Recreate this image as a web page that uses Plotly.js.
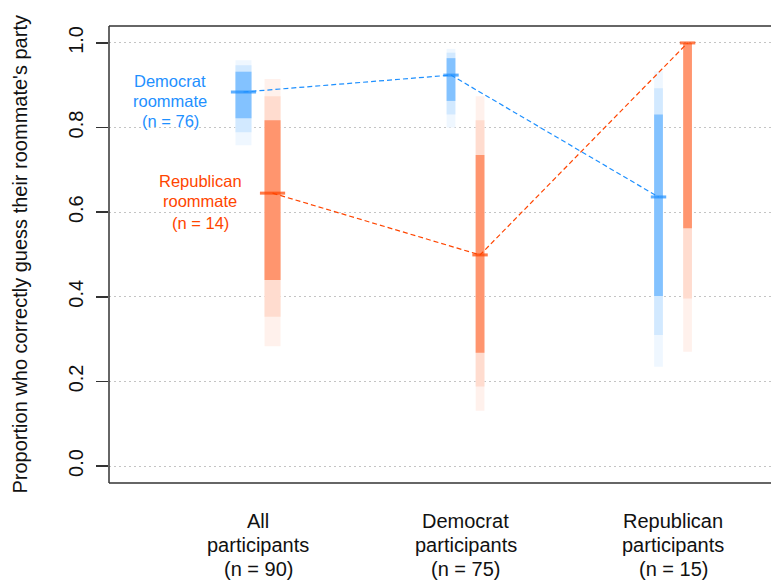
<!DOCTYPE html>
<html>
<head>
<meta charset="utf-8">
<script src="https://cdn.plot.ly/plotly-3.0.1.min.js"></script>
<style>
html,body{margin:0;padding:0;background:#fff;overflow:hidden;}
#chart{width:771px;height:581px;}
</style>
</head>
<body>
<div id="chart"></div>
<script>
// ---- data ----
const groups = ["All", "Democrat", "Republican"];
const groupN = [90, 75, 15];

const demMedian   = [0.884, 0.924, 0.636];
const demDarkLo   = [0.822, 0.863, 0.402];
const demDarkHi   = [0.932, 0.964, 0.831];
const demMidLo    = [0.789, 0.831, 0.310];
const demMidHi    = [0.947, 0.977, 0.893];
const demOuterLo  = [0.758, 0.800, 0.235];
const demOuterHi  = [0.959, 0.986, 0.933];

const repMedian   = [0.645, 0.499, 1.000];
const repDarkLo   = [0.440, 0.268, 0.562];
const repDarkHi   = [0.817, 0.735, 1.000];
const repMidLo    = [0.353, 0.188, 0.396];
const repMidHi    = [0.874, 0.817, 1.000];
const repOuterLo  = [0.283, 0.131, 0.270];
const repOuterHi  = [0.915, 0.874, 1.000];

const yTickVals = [0, 0.2, 0.4, 0.6, 0.8, 1.0];
const yTickText = ["0.0", "0.2", "0.4", "0.6", "0.8", "1.0"];
const yTitle = "Proportion who correctly guess their roommate's party";

// ---- styles ----
const FONT = "Liberation Sans, Arial, sans-serif";
const OFFSET = 0.07;
const barW = [0.077, 0.042, 0.042];
const medPx = [18, 11, 11];
const blue = {line:"rgb(30,144,255)", dark:"rgb(131,194,255)", mid:"rgb(210,233,255)", light:"rgb(239,247,255)"};
const red  = {line:"rgb(255,69,0)",  dark:"rgb(255,149,110)", mid:"rgb(255,220,207)", light:"rgb(255,241,236)"};

const pos = groups.map((g,i)=>i+1);
const xDem = pos.map(p=>p-OFFSET);
const xRep = pos.map(p=>p+OFFSET);

function band(x, lo, hi, color){
  return {type:"bar", x:x, base:lo, y:hi.map((h,i)=>h-lo[i]), width:barW,
    marker:{color:color, line:{width:0}}, hoverinfo:"skip", showlegend:false};
}
function medians(x, m, color){
  return {type:"scatter", mode:"markers", x:x, y:m, cliponaxis:false,
    marker:{symbol:"line-ew", size:medPx, color:color, line:{color:color, width:3}},
    hoverinfo:"skip", showlegend:false};
}
function connector(x, m, color){
  return {type:"scatter", mode:"lines", x:x, y:m,
    line:{color:color, width:1.2, dash:"5px,3px"}, hoverinfo:"skip", showlegend:false};
}

const traces = [
  band(xDem, demOuterLo, demOuterHi, blue.light),
  band(xDem, demMidLo, demMidHi, blue.mid),
  band(xDem, demDarkLo, demDarkHi, blue.dark),
  band(xRep, repOuterLo, repOuterHi, red.light),
  band(xRep, repMidLo, repMidHi, red.mid),
  band(xRep, repDarkLo, repDarkHi, red.dark),
  connector(xDem, demMedian, blue.line),
  connector(xRep, repMedian, red.line),
  medians(xDem, demMedian, blue.line),
  medians(xRep, repMedian, red.line)
];

// x-axis category labels (three lines each)
const annotations = [];
groups.forEach((g,i)=>{
  const lines = [g, "participants", "(n = " + groupN[i] + ")"];
  lines.forEach((t,j)=>{
    annotations.push({xref:"x", yref:"paper", x:pos[i], y:0, yanchor:"middle", xanchor:"center",
      yshift:-38 - 24*j, text:t, showarrow:false, font:{family:FONT, size:20, color:"#111"}});
  });
});
// in-plot labels
const XR = [0.282, 3.472];
function pxToX(px){ return XR[0] + (px-109)/(771-109)*(XR[1]-XR[0]); }
function pyToY(py){ return (467-py)/423.5; }
[["Democrat",82],["roommate",102],["(n = 76)",122]].forEach(([t,py])=>{
  annotations.push({xref:"x", yref:"y", x:pxToX(170), y:pyToY(py), text:t, showarrow:false,
    xanchor:"center", yanchor:"middle", font:{family:FONT, size:16.5, color:blue.line}});
});
[["Republican",182],["roommate",202],["(n = 14)",224]].forEach(([t,py])=>{
  annotations.push({xref:"x", yref:"y", x:pxToX(200), y:pyToY(py), text:t, showarrow:false,
    xanchor:"center", yanchor:"middle", font:{family:FONT, size:16.5, color:red.line}});
});
// y title
annotations.push({xref:"paper", yref:"paper", x:0, y:0.5, xshift:-90, xanchor:"center", yanchor:"middle",
  textangle:-90, text:yTitle, showarrow:false, font:{family:FONT, size:20, color:"#111"}});

const layout = {
  width:771, height:581,
  margin:{l:109, r:0, t:26, b:98},
  paper_bgcolor:"#fff", plot_bgcolor:"#fff",
  barmode:"overlay", showlegend:false,
  font:{family:FONT, color:"#111"},
  xaxis:{range:XR, showgrid:false, zeroline:false, showticklabels:false, showline:false, ticks:""},
  yaxis:{range:[-0.04,1.04], tickvals:yTickVals, ticktext:yTickText, tickangle:-90,
    ticks:"outside", ticklen:12, tickwidth:1.5, tickcolor:"#333", ticklabelstandoff:5,
    tickfont:{family:FONT, size:20, color:"#111"},
    showgrid:true, gridcolor:"#c4c4c4", griddash:"2px,3px", gridwidth:1,
    zeroline:false, showline:false},
  shapes:[
    {type:"line", xref:"paper", yref:"paper", x0:0, x1:0, y0:0, y1:1, line:{color:"#333", width:1.5}},
    {type:"line", xref:"paper", yref:"paper", x0:0, x1:1.02, y0:1, y1:1, line:{color:"#333", width:1.5}},
    {type:"line", xref:"paper", yref:"paper", x0:0, x1:1.02, y0:0, y1:0, line:{color:"#333", width:1.5}}
  ],
  annotations:annotations
};

Plotly.newPlot("chart", traces, layout, {displayModeBar:false, staticPlot:true});
</script>
</body>
</html>
